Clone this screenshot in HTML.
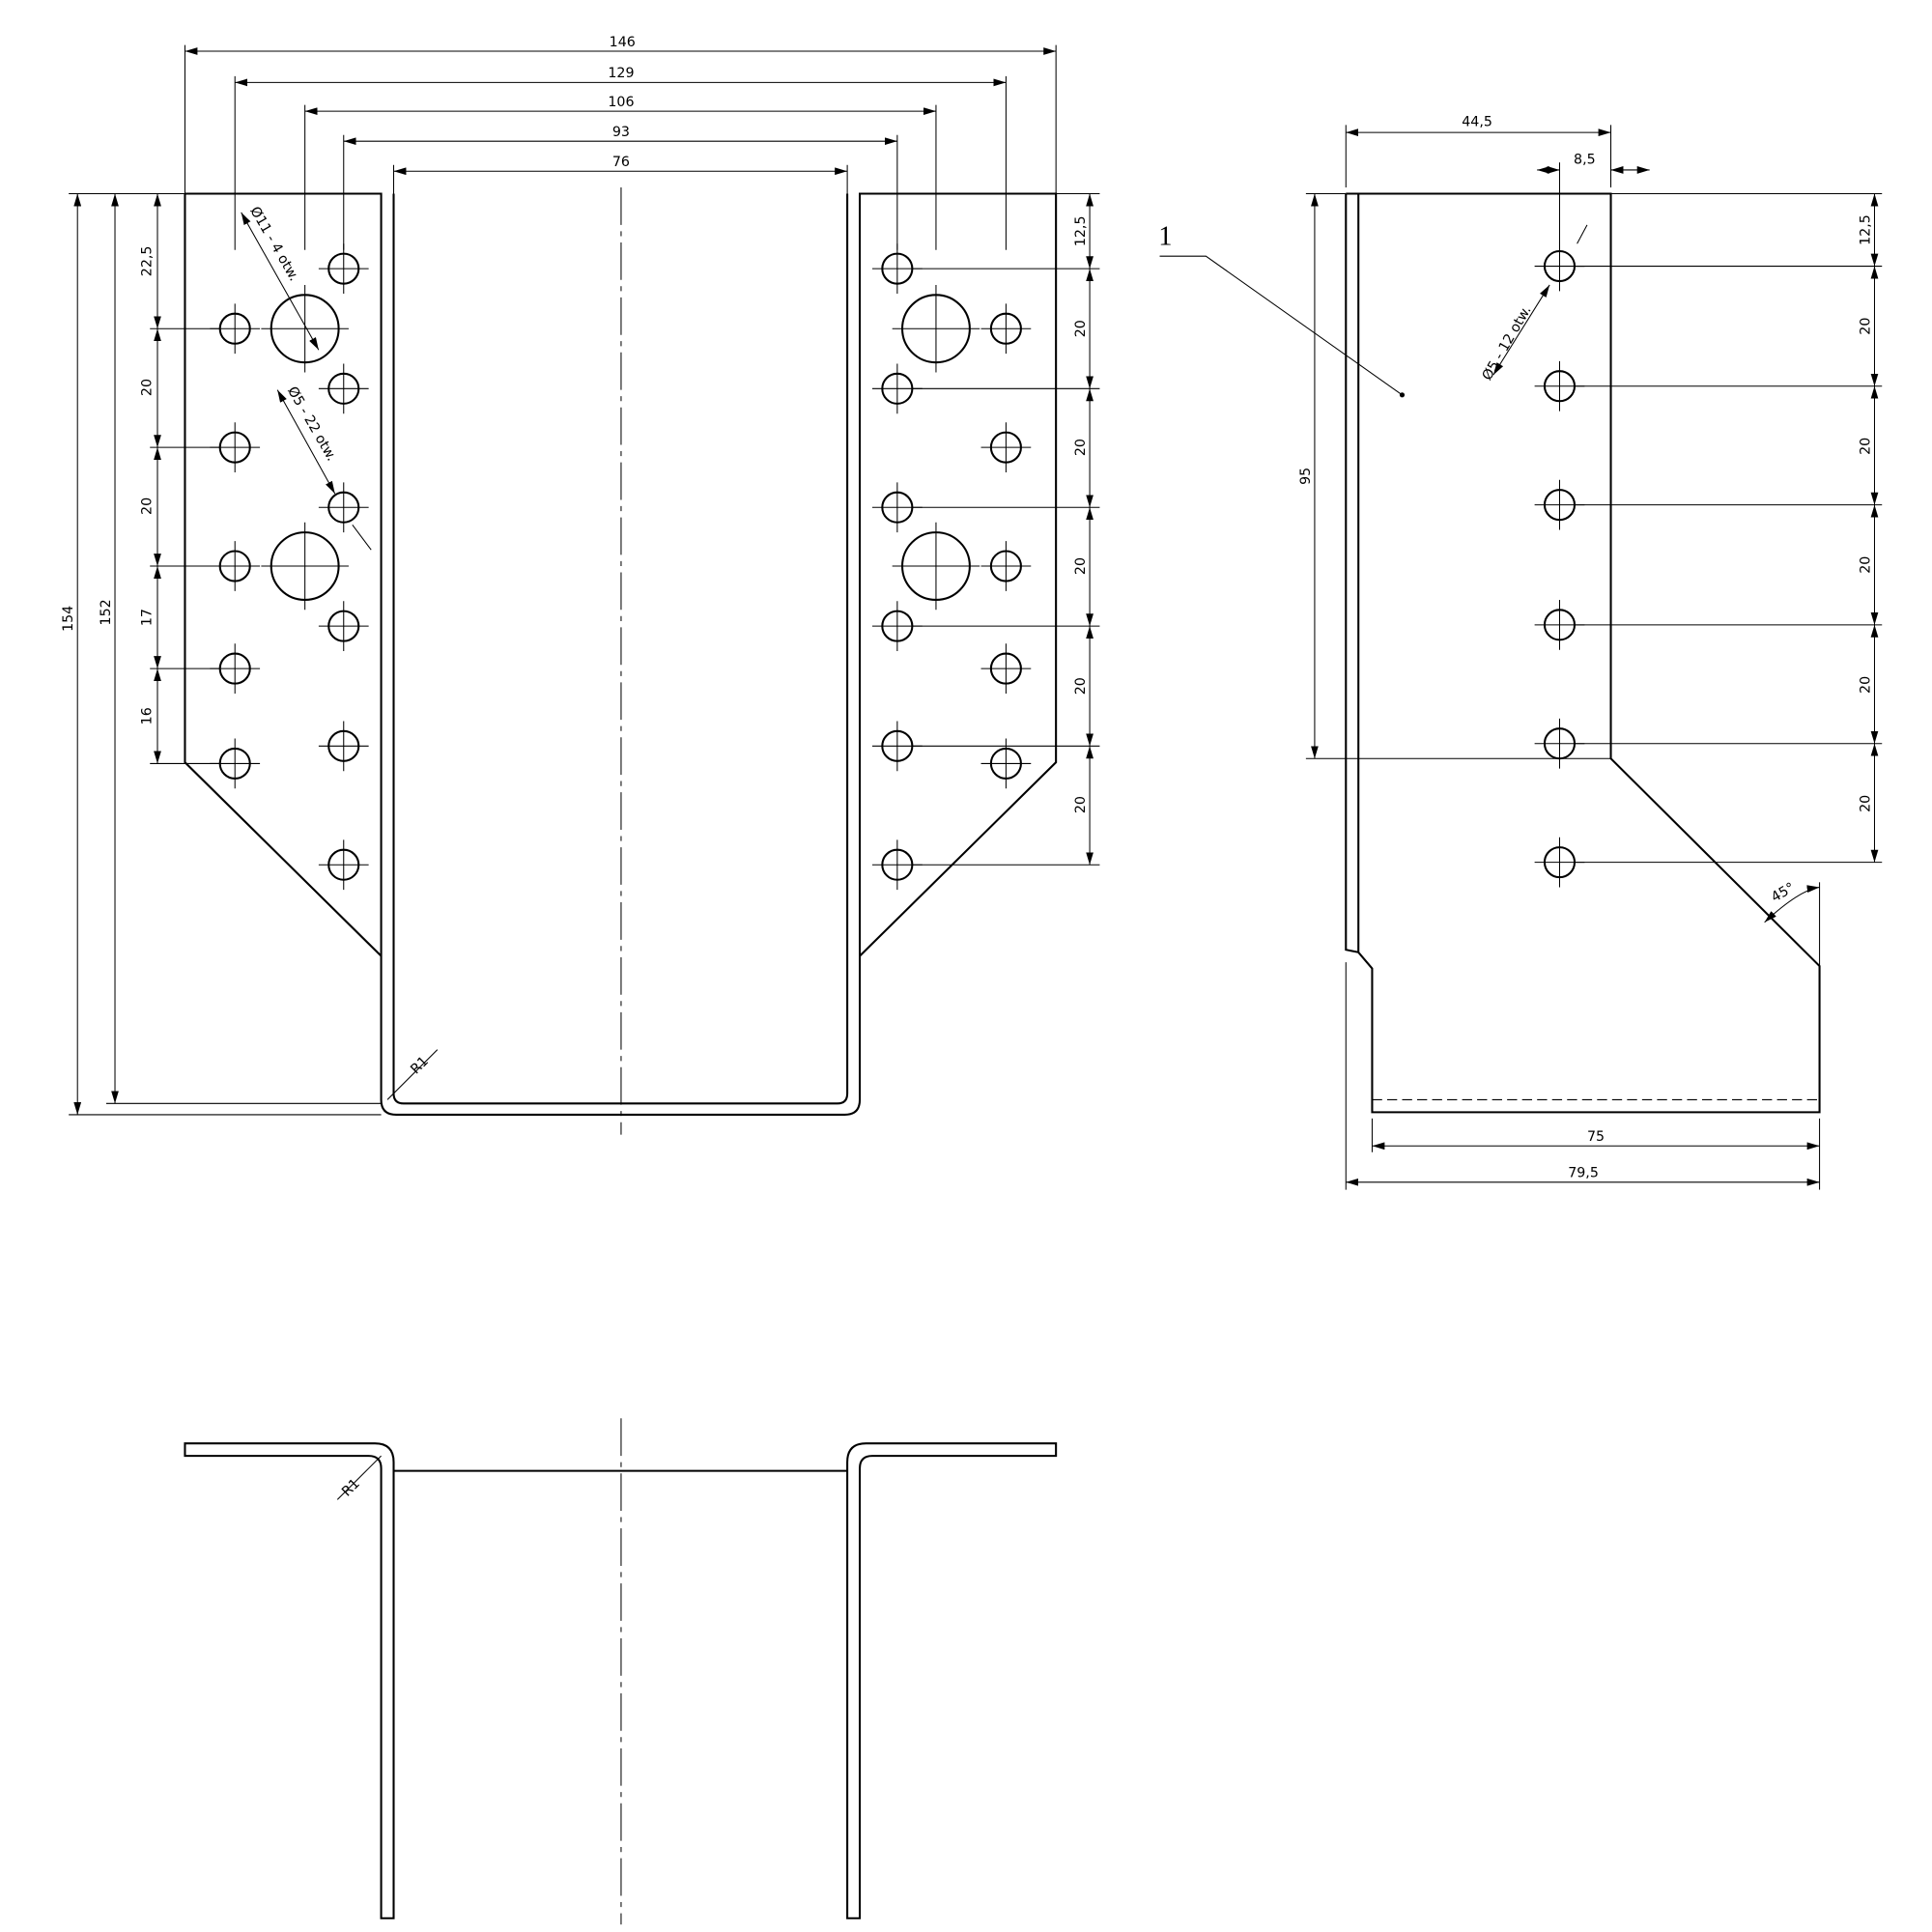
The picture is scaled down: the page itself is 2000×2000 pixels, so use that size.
<!DOCTYPE html>
<html><head><meta charset="utf-8"><style>
html,body{margin:0;padding:0;background:#fff}
svg{display:block}
text{font-family:"DejaVu Sans","Liberation Sans",sans-serif;font-size:11px;fill:#000}
</style></head><body>
<svg id="s" width="2000" height="2000" viewBox="0 0 1546 1546" xmlns="http://www.w3.org/2000/svg">
<defs>
<marker id="a" markerWidth="10" markerHeight="6" refX="10" refY="3" orient="auto-start-reverse" markerUnits="userSpaceOnUse"><path d="M0,0 L10,3 L0,6z" fill="#000"/></marker>
</defs>
<g id="g" fill="none" stroke="#000" stroke-width="1.6">
<path d="M148,155 H305 V880 Q305,892 317,892 H676 Q688,892 688,880 V155 H845 V610 L688,765"/>
<path d="M148,155 V610 L305,765"/>
<path d="M315,155 V875 Q315,883 323,883 H670 Q678,883 678,875 V155"/>
<path d="M1077,155 H1289 V607 L1456,773 V890 H1098 V775 L1087,762 M1077,155 V760 L1087,762 L1098,775 M1087,155 V762"/>
<path d="M148,1155 H300 Q315,1155 315,1170 V1535 H305 V1175 Q305,1165 295,1165 H148 Z"/>
<path d="M845,1155 H693 Q678,1155 678,1170 V1535 H688 V1175 Q688,1165 698,1165 H845 Z"/>
<path d="M315,1177 H678"/>
</g>
<g fill="none" stroke="#000" stroke-width="0.8">
<path d="M1098,880 H1456" stroke-dasharray="8,4"/>
<path d="M497,150 V908 M497,1135 V1540" stroke-dasharray="30,5,4,5"/>
<path d="M928,205 H965 L1122,316"/>
</g>
<circle cx="1122" cy="316" r="2" fill="#000"/>
<g id="dims" stroke="#000" stroke-width="0.8" fill="none"></g>
<text x="498" y="37" text-anchor="middle">146</text>
<text x="497" y="62" text-anchor="middle">129</text>
<text x="497" y="85" text-anchor="middle">106</text>
<text x="497" y="109" text-anchor="middle">93</text>
<text x="497" y="133" text-anchor="middle">76</text>
<text transform="translate(58,495) rotate(-90)" text-anchor="middle">154</text>
<text transform="translate(88,490) rotate(-90)" text-anchor="middle">152</text>
<text transform="translate(121,209) rotate(-90)" text-anchor="middle">22,5</text>
<text transform="translate(121,310) rotate(-90)" text-anchor="middle">20</text>
<text transform="translate(121,405) rotate(-90)" text-anchor="middle">20</text>
<text transform="translate(121,494) rotate(-90)" text-anchor="middle">17</text>
<text transform="translate(121,573) rotate(-90)" text-anchor="middle">16</text>
<text transform="translate(868,185) rotate(-90)" text-anchor="middle">12,5</text>
<text transform="translate(868,263) rotate(-90)" text-anchor="middle">20</text>
<text transform="translate(868,358) rotate(-90)" text-anchor="middle">20</text>
<text transform="translate(868,453) rotate(-90)" text-anchor="middle">20</text>
<text transform="translate(868,549) rotate(-90)" text-anchor="middle">20</text>
<text transform="translate(868,644) rotate(-90)" text-anchor="middle">20</text>
<text transform="translate(200,168) rotate(60)">Ø11 - 4 otw.</text>
<text transform="translate(230,312) rotate(60)">Ø5 - 22 otw.</text>
<text transform="translate(333,860) rotate(-45)">R1</text>
<text transform="translate(278,1198) rotate(-45)">R1</text>
<text x="1182" y="101" text-anchor="middle">44,5</text>
<text x="1268" y="131" text-anchor="middle">8,5</text>
<text transform="translate(1048,381) rotate(-90)" text-anchor="middle">95</text>
<text transform="translate(1496,184) rotate(-90)" text-anchor="middle">12,5</text>
<text transform="translate(1496,261) rotate(-90)" text-anchor="middle">20</text>
<text transform="translate(1496,357) rotate(-90)" text-anchor="middle">20</text>
<text transform="translate(1496,452) rotate(-90)" text-anchor="middle">20</text>
<text transform="translate(1496,548) rotate(-90)" text-anchor="middle">20</text>
<text transform="translate(1496,643) rotate(-90)" text-anchor="middle">20</text>
<text transform="translate(1192,305) rotate(-60)">Ø5 - 12 otw.</text>
<text transform="translate(1420,722) rotate(-30)">45°</text>
<text x="1277" y="913" text-anchor="middle">75</text>
<text x="1267" y="942" text-anchor="middle">79,5</text>
<text x="927" y="196" style="font-size:22px;font-family:'Liberation Serif',serif">1</text>
</svg>
<script>
var NS="http://www.w3.org/2000/svg",g=document.getElementById("g"),d=document.getElementById("dims");
function el(p,t,a){var e=document.createElementNS(NS,t);for(var k in a)e.setAttribute(k,a[k]);p.appendChild(e);return e;}
function hole(x,y,r){el(g,"circle",{cx:x,cy:y,r:r});el(d,"path",{d:"M"+(x-r-8)+","+y+"H"+(x+r+8)+"M"+x+","+(y-r-8)+"V"+(y+r+8)});}
[263,358,453,535,611].forEach(function(y){hole(188,y,12);hole(805,y,12);});
[215,311,406,501,597,692].forEach(function(y){hole(275,y,12);hole(718,y,12);});
hole(244,263,27);hole(244,453,27);hole(749,263,27);hole(749,453,27);
[213,309,404,500,595,690].forEach(function(y){hole(1248,y,12);});
function dim(x1,y1,x2,y2){el(d,"line",{x1:x1,y1:y1,x2:x2,y2:y2,"marker-start":"url(#a)","marker-end":"url(#a)"});}
function L(x1,y1,x2,y2){el(d,"line",{x1:x1,y1:y1,x2:x2,y2:y2});}
[[148,845,41],[188,805,66],[244,749,89],[275,718,113],[315,678,137]].forEach(function(a){dim(a[0],a[2],a[1],a[2]);L(a[0],a[2]-5,a[0],200);L(a[1],a[2]-5,a[1],200);});
dim(62,155,62,892);dim(92,155,92,883);L(55,155,148,155);L(55,892,305,892);L(85,883,305,883);
var c=[155,263,358,453,535,611];for(var i=0;i<c.length-1;i++)dim(126,c[i],126,c[i+1]);
c.forEach(function(y){L(120,y,176,y);});
var r=[155,215,311,406,501,597,692];for(i=0;i<r.length-1;i++)dim(872,r[i],872,r[i+1]);
r.forEach(function(y){L(730,y,880,y);});
dim(1077,106,1289,106);L(1077,100,1077,150);L(1289,100,1289,150);
dim(1230,136,1248,136);dim(1320,136,1289,136);L(1248,130,1248,200);
dim(1052,155,1052,607);L(1045,155,1077,155);L(1045,607,1289,607);
var s=[155,213,309,404,500,595,690];for(i=0;i<s.length-1;i++)dim(1500,s[i],1500,s[i+1]);
s.forEach(function(y){L(1260,y,1506,y);});
dim(1098,917,1456,917);dim(1077,946,1456,946);L(1098,895,1098,922);L(1456,895,1456,952);L(1077,770,1077,952);
L(1456,773,1456,706);
dim(193,170,255,280);dim(222,312,268,395);L(282,420,297,440);dim(1195,300,1240,228);L(1262,195,1270,180);
el(d,"path",{d:"M1412,738 Q1440,712 1456,710","marker-start":"url(#a)","marker-end":"url(#a)"});
L(310,880,350,840);L(305,1165,270,1200);
</script>
</body></html>
